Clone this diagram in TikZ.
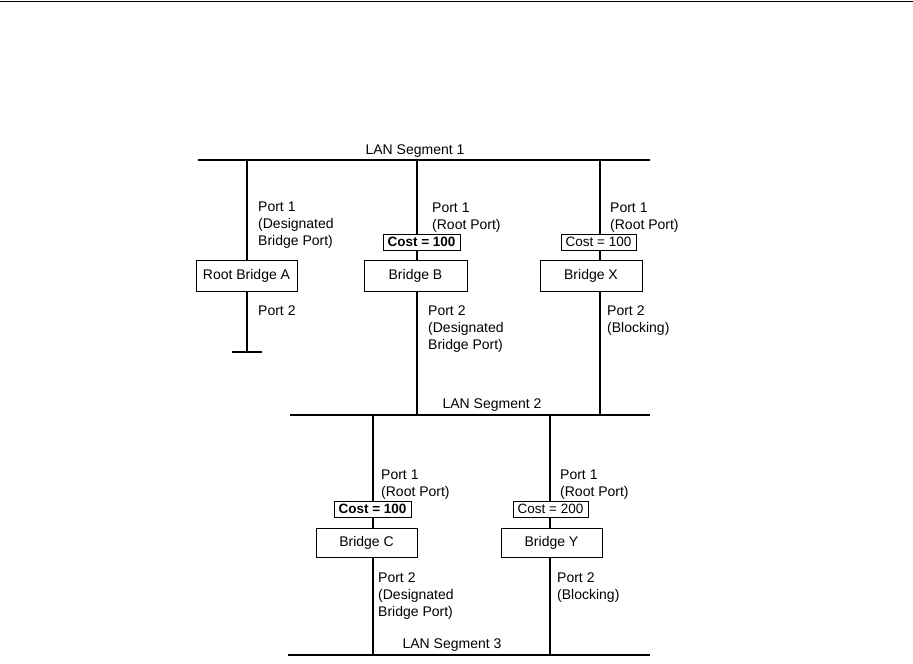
\documentclass[tikz,border=0pt]{standalone}
\usepackage{fontspec}
\setmainfont{Liberation Sans}
\begin{document}
\begin{tikzpicture}[x=1pt,y=-1pt,
  lbl/.style={inner sep=0pt,anchor=base west,align=left,font=\fontsize{14}{17}\selectfont},
  seglbl/.style={inner sep=0pt,anchor=base,font=\fontsize{14}{17}\selectfont},
  bridge/.style={draw,line width=0.8pt,fill=white,inner sep=0pt,font=\fontsize{14}{17}\selectfont},
  cost/.style={draw,line width=0.8pt,fill=white,inner sep=0pt,minimum height=16pt,font=\fontsize{13.5}{17}\selectfont},
  seg/.style={line width=2pt},
  drop/.style={line width=1.8pt}]
\useasboundingbox (0,0) rectangle (913,664);
% top rule
\coordinate (tl) at (0,1.5);
\coordinate (tr) at (913,1.5);
\draw[line width=1pt] (tl) -- (tr);
% LAN segments
\coordinate (s1l) at (198,160); \coordinate (s1r) at (650,160);
\coordinate (s2l) at (290,415); \coordinate (s2r) at (650,415);
\coordinate (s3l) at (288,655); \coordinate (s3r) at (650,655);
\draw[seg] (s1l) -- (s1r);
\draw[seg] (s2l) -- (s2r);
\draw[seg] (s3l) -- (s3r);
% drop points
\coordinate (a1) at (247,160); \coordinate (a2) at (247,352);
\coordinate (e1) at (232,352); \coordinate (e2) at (262,352);
\coordinate (b1) at (417,160); \coordinate (b2) at (417,415);
\coordinate (x1) at (600,160); \coordinate (x2) at (600,415);
\coordinate (c1) at (373,415); \coordinate (c2) at (373,655);
\coordinate (y1) at (550,415); \coordinate (y2) at (550,655);
\draw[drop] (a1) -- (a2);
\draw[drop] (e1) -- (e2);
\draw[line width=2.6pt] (b1) -- (b2);
\draw[drop] (x1) -- (x2);
\draw[drop] (c1) -- (c2);
\draw[drop] (y1) -- (y2);
% segment labels
\node[seglbl] (l1) at (415,154) {LAN Segment 1};
\node[seglbl] (l2) at (492,408) {LAN Segment 2};
\node[seglbl] (l3) at (452,648) {LAN Segment 3};
% bridges
\node[bridge,minimum width=101pt,minimum height=31pt] (A) at (246.5,275.5) {Root Bridge A};
\node[bridge,minimum width=103pt,minimum height=31pt] (B) at (415.5,275.5) {Bridge B};
\node[bridge,minimum width=102pt,minimum height=31pt] (X) at (591,275.5) {Bridge X};
\node[bridge,minimum width=101pt,minimum height=29pt] (C) at (366.5,542.5) {Bridge C};
\node[bridge,minimum width=101pt,minimum height=29pt] (Y) at (551.5,542.5) {Bridge Y};
% costs
\node[cost,minimum width=77pt] (cb) at (421.5,242) {\bfseries Cost = 100};
\node[cost,minimum width=75pt] (cx) at (598.5,242) {Cost = 100};
\node[cost,minimum width=77pt] (cc) at (372.5,509) {\bfseries Cost = 100};
\node[cost,minimum width=75pt] (cy) at (550.5,509) {Cost = 200};
% port labels (anchor = baseline of last line)
\node[lbl] (pa1) at (258,245) {Port 1\\(Designated\\Bridge Port)};
\node[lbl] (pa2) at (258,315) {Port 2};
\node[lbl] (pb1) at (432,229) {Port 1\\(Root Port)};
\node[lbl] (pb2) at (428,349) {Port 2\\(Designated\\Bridge Port)};
\node[lbl] (px1) at (610,229) {Port 1\\(Root Port)};
\node[lbl] (px2) at (607,332) {Port 2\\(Blocking)};
\node[lbl] (pc1) at (381,496) {Port 1\\(Root Port)};
\node[lbl] (pc2) at (378,616) {Port 2\\(Designated\\Bridge Port)};
\node[lbl] (py1) at (560,496) {Port 1\\(Root Port)};
\node[lbl] (py2) at (557,599) {Port 2\\(Blocking)};
\end{tikzpicture}
\end{document}
